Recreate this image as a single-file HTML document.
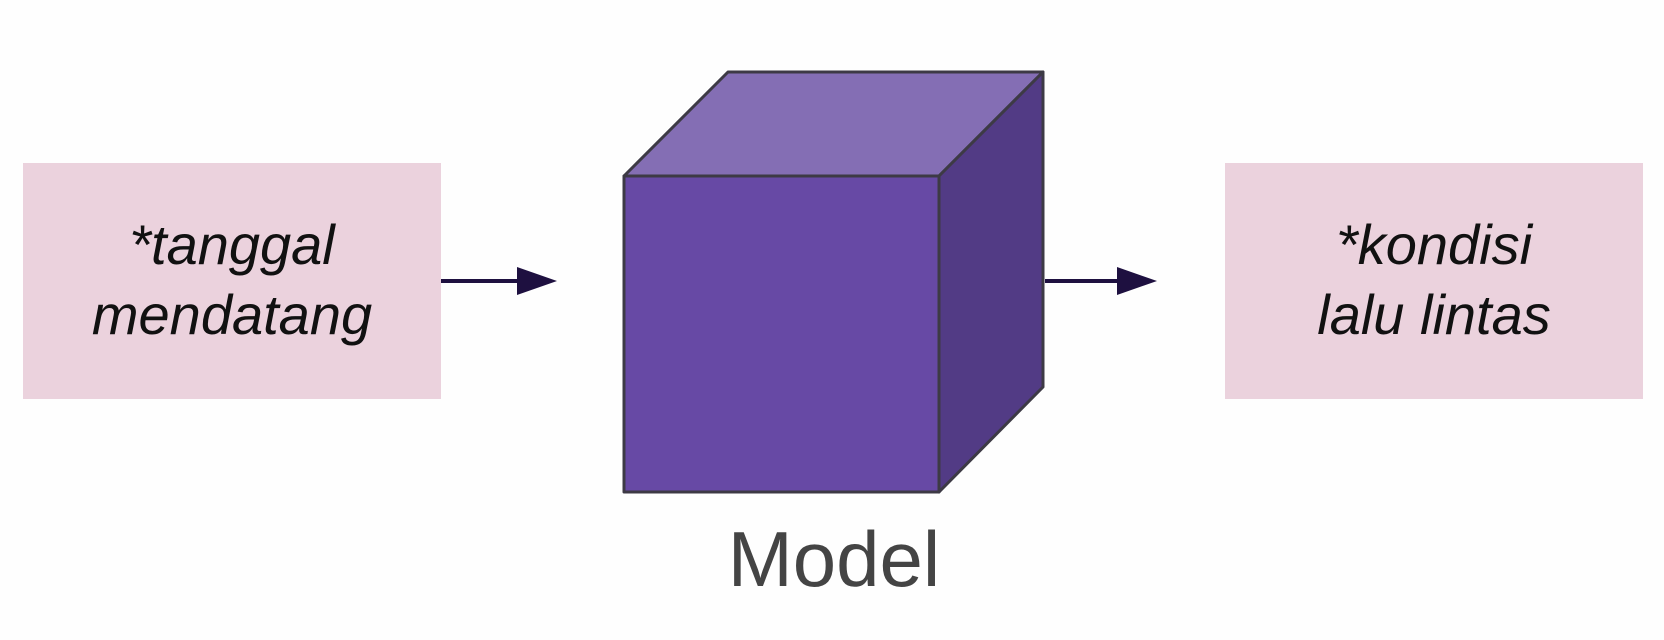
<!DOCTYPE html>
<html><head><style>
html,body{margin:0;padding:0;background:#fefefe;}
svg{display:block}
</style></head><body>
<svg width="1664" height="640" viewBox="0 0 1664 640" xmlns="http://www.w3.org/2000/svg">
<rect x="23" y="163" width="418" height="236" fill="#ebd2dd"/>
<rect x="1225" y="163" width="418" height="236" fill="#ebd2dd"/>
<g font-family="Liberation Sans, sans-serif" font-style="italic" font-size="56" fill="#111" text-anchor="middle">
<text x="232" y="264">*tanggal</text>
<text x="232" y="334">mendatang</text>
<text x="1434" y="264">*kondisi</text>
<text x="1434" y="334">lalu lintas</text>
</g>
<line x1="441" y1="281" x2="520" y2="281" stroke="#1e1040" stroke-width="4"/>
<polygon points="517,267 557,281 517,295" fill="#1e1040"/>
<line x1="1045" y1="281" x2="1120" y2="281" stroke="#1e1040" stroke-width="4"/>
<polygon points="1117,267 1157,281 1117,295" fill="#1e1040"/>
<g stroke="#3d3a45" stroke-width="3" stroke-linejoin="round">
<polygon points="624,176 728,72 1043,72 939,176" fill="#846eb4"/>
<polygon points="939,176 1043,72 1043,387 939,492" fill="#523b85"/>
<rect x="624" y="176" width="315" height="316" fill="#6749a5"/>
</g>
<text x="834" y="586" font-family="Liberation Sans, sans-serif" font-size="78" fill="#444" text-anchor="middle">Model</text>
</svg>
</body></html>
